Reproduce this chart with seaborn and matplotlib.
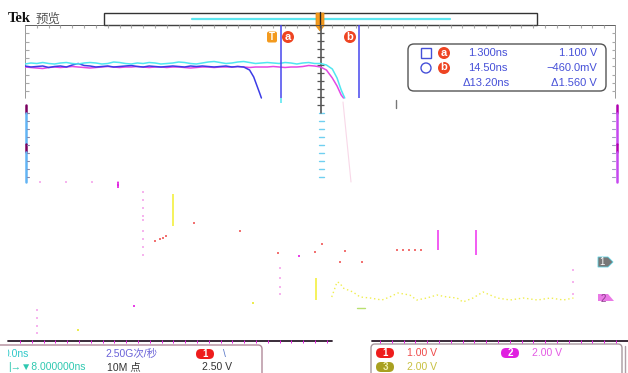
import numpy as np
import pandas as pd
import matplotlib.pyplot as plt
import seaborn as sns
from matplotlib.patches import Rectangle, FancyBboxPatch, Circle, Polygon

sns.set_style("white")
plt.rcParams['font.family'] = ['Liberation Sans', 'Noto Sans CJK SC', 'DejaVu Sans']

# ---- scope data: time in ns, level in screen rows (px from top) ----
t_full = [-42, -41, -40, -39, -38, -37, -36, -35, -34, -33, -32, -31, -30, -29, -28, -27, -26,
          -25, -24, -23, -22, -21, -20, -19, -18, -17, -16, -15, -14, -13, -12, -11, -10, -9,
          -8, -7, -6, -5, -4, -3, -2, -1, 0, 1, 2, 3, 4, 5, 6, 7, 8]

cyan_t = t_full + [9, 10, 10.8, 11.5, 12.1]
cyan_y = [64, 63, 63.5, 62.5, 63.5, 64, 63, 62.5, 63.5, 64, 63, 62.5, 63, 64, 63.5, 62, 62.5,
          63.5, 64, 63, 63.5, 62.5, 63, 64, 63.5, 63, 62, 62.5, 63.5, 64, 63, 62, 61.5, 62.5,
          63.5, 63, 62, 61.5, 62.5, 63.5, 63, 62.5, 63, 63.5, 62.5, 63, 64, 63, 62.5, 63.5, 63.5,
          65, 69, 78, 90, 98]

blue_t = t_full[:37] + [-5, -4, -3.3, -2.8, -2.3, -2.0]
blue_y = [66, 67, 66.5, 66, 67.5, 66.5, 66, 67, 65, 63.5, 65.5, 66, 67, 66.5, 66, 67, 66.5,
          66, 65.5, 66.5, 67, 66, 66.5, 67, 66.5, 66, 66.5, 67, 66, 66.5, 66, 66.5, 67, 66.5,
          66, 67, 66.5,
          67, 70, 77, 85, 93, 98]

magenta_t = t_full + [9, 10, 10.8, 11.5, 11.9]
magenta_y = [67, 67.5, 68, 68.5, 67.5, 67, 67.5, 67, 66.5, 67, 67.5, 68, 67.5, 67, 66.5, 67, 67.5,
             67, 67, 66.5, 67, 67.5, 67, 67, 67.5, 67, 67, 67.5, 68, 67.5, 67, 67, 67.5, 67,
             67, 67, 66.5, 67, 67.5, 67, 67, 67, 66.5, 67, 67.5, 67, 67, 66.5, 65.5, 66, 67,
             70, 78, 86, 95, 98]

yellow_t = [9.9, 10.8, 11.3, 11.8, 13.5, 14.7, 16.4, 18.4, 19.7, 21.1, 23.1, 24.3, 26.0, 27.7,
            29.4, 31.1, 32.1, 33.8, 35.5, 37.9, 40.1, 42.3, 44.7, 46.9, 49.1, 50.8]
yellow_y = [297, 282, 283, 288, 292, 297, 298, 300, 297, 293, 295, 300, 298, 295,
            297, 298, 302, 298, 292, 298, 300, 298, 300, 298, 300, 298]

cursor_a = 1.3
cursor_b = 14.5
h_center = 8.0          # horizontal position, ns
ns_per_div = 10

# sparse dots left on the lower part of the screen
dot_t = [-39.5, -35.1, -30.7, -26.3,
         -22, -22, -22, -22, -22, -22, -22, -22, -22,
         -40, -40, -40, -40, 50.7, 50.7, 50.7, 1.1, 1.1, 1.1, 1.1,
         -20, -19.2, -18.7, -18.1, -13.4, -5.6, 8.3, 0.8, 7.1, 12.1, 20.9, 22, 23, 24, 25,
         15, 11.3,
         4.4, -23.6, -26.3, -33, -3.4]
dot_y = [182, 182, 182, 182,
         192, 200, 208, 216, 220, 231, 239, 247, 255,
         310, 318, 326, 333, 270, 282, 294, 268, 278, 287, 294,
         241, 239, 238, 236, 223, 231, 244, 253, 252, 251, 250, 250, 250, 250, 250,
         262, 262,
         256, 306, 185, 330, 303]
dot_kind = (['pink'] * 24 + ['red'] * 17 + ['mag'] * 3 + ['yel'] * 2)

spike_t = [-17, 7.3, 27.9, 34.3, -26.3]
spike_top = [194, 278, 230, 230, 182]
spike_bot = [226, 300, 250, 255, 188]
spike_col = ['#f4f040', '#f4f040', '#f040f0', '#f040f0', '#e020e0']

trace_colors = {'cyan': '#50e6f0', 'blue': '#3c3ce6', 'magenta': '#e448e4'}
dot_colors = {'pink': '#f6b4ee', 'red': '#f27272', 'mag': '#e840e8', 'yel': '#ecec50'}

traces = pd.concat([
    pd.DataFrame({'t': magenta_t, 'row': magenta_y, 'trace': 'magenta'}),
    pd.DataFrame({'t': blue_t, 'row': blue_y, 'trace': 'blue'}),
    pd.DataFrame({'t': cyan_t, 'row': cyan_y, 'trace': 'cyan'}),
])
dots = pd.DataFrame({'t': dot_t, 'row': dot_y, 'kind': dot_kind})

# ---- figure ----
fig = plt.figure(figsize=(6.28, 3.73), dpi=100)
ax = fig.add_axes([0, 0, 1, 1])
ax.set_xlim(0, 628)
ax.set_ylim(373, 0)
ax.axis('off')

left, right, top, pane_bot, bottom = 25, 616, 25, 98, 341
t0 = h_center - 5 * ns_per_div
t1 = h_center + 5 * ns_per_div
sc = fig.add_axes([left / 628, 1 - bottom / 373, (right - left) / 628, (bottom - top) / 373])
sc.patch.set_alpha(0)

# graticule
grid_c = '#a8a8a8'
sc.plot([t0, t1], [top, top], color='#444444', lw=1.2)
sc.plot([t0, t0], [top, pane_bot], color='#888888', lw=1.2)
sc.plot([t1, t1], [top, pane_bot], color='#888888', lw=1.2)
for k in range(1, 10):
    tc = t0 + k * ns_per_div
    if tc == h_center:
        continue
    sc.scatter([tc] * 7, [33, 42, 50, 58, 75, 83, 91], s=0.5, color=grid_c, marker='s', lw=0)
tick_t = np.arange(t0 + 2, t1, 2)
sc.vlines(tick_t, top, top + 2.5, color=grid_c, lw=0.8)
rows = np.arange(top + 8.3, pane_bot, 8.3)
sc.hlines(rows, t0, t0 + 0.6, color=grid_c, lw=0.8)
sc.hlines(rows, t1 - 0.6, t1, color=grid_c, lw=0.8)
sc.plot([h_center, h_center], [top, 113], color='#555555', lw=1.2)
sc.hlines(np.arange(top + 8, 113, 8), h_center - 0.6, h_center + 0.6, color='#555555', lw=0.9)

sns.lineplot(data=traces, x='t', y='row', hue='trace', palette=trace_colors, ax=sc,
             legend=False, sort=False, estimator=None, linewidth=1.1)
sns.lineplot(x=yellow_t, y=yellow_y, ax=sc, color='#f0ee50', linewidth=1.0,
             dashes=False, linestyle=(0, (1, 2)))
sns.scatterplot(data=dots, x='t', y='row', hue='kind', palette=dot_colors, ax=sc,
                legend=False, s=3, marker='s', linewidth=0)
sc.vlines(spike_t, spike_top, spike_bot, colors=spike_col, lw=1.2)
sc.plot([14.2, 15.5], [308, 308], color='#b8e070', lw=1)

# cursors
sc.vlines([cursor_a, cursor_b], top, pane_bot, color='#4646ee', lw=1.1)
sc.vlines([cursor_a], pane_bot, 103, color='#60e8f0', lw=1.2)

sc.set_xlim(t0, t1)
sc.set_ylim(bottom, top)
sc.axis('off')

# ---- top header ----
ax.text(8, 19, 'Tek', family='Liberation Serif', weight='bold', fontsize=10.5,
        va='center', ha='left', color='#111111')
ax.text(36, 19.5, '预览', family='Noto Sans CJK SC', fontsize=9, va='center',
        ha='left', color='#555555')
ax.add_patch(Rectangle((104, 13), 433, 12, fill=False, ec='#333333', lw=1))
ax.plot([192, 450], [19, 19], color='#5ce6f0', lw=1.6)
ax.add_patch(Polygon([(316, 13), (324, 13), (324, 26), (320, 31), (316, 26)],
                     closed=True, fc='#f39a1e', ec='#e08a10', lw=0.5, zorder=5))
ax.plot([320, 320], [12, 27], color='#222222', lw=1, zorder=6)

ax.add_patch(FancyBboxPatch((267, 31.5), 10, 11, boxstyle='round,pad=0,rounding_size=2',
                            fc='#f39a1e', ec='none'))
ax.text(272, 37.5, 'T', color='white', fontsize=7, weight='bold', ha='center', va='center')
for cx, lab in [(288, 'a'), (350, 'b')]:
    ax.add_patch(Circle((cx, 37), 6, fc='#ee4422', ec='none'))
    ax.text(cx, 36.5, lab, color='white', fontsize=8, weight='bold', ha='center', va='center')

# cursor readout
blue_txt = '#4650d8'
ax.add_patch(FancyBboxPatch((408, 44), 198, 47, boxstyle='round,pad=0,rounding_size=6',
                            fc='white', ec='#555555', lw=1, zorder=3))
ax.add_patch(Rectangle((421, 48), 10, 10, fill=False, ec=blue_txt, lw=1, zorder=4))
ax.add_patch(Circle((426, 68), 5, fill=False, ec=blue_txt, lw=1, zorder=4))
for cy, lab in [(53, 'a'), (68, 'b')]:
    ax.add_patch(Circle((444, cy), 6, fc='#ee4422', ec='none', zorder=4))
    ax.text(444, cy - 0.5, lab, color='white', fontsize=8, weight='bold', ha='center',
            va='center', zorder=5)
read_rows = [(53, '1.300ns', '1.100 V', 468),
             (68, '14.50ns', '\u2212460.0mV', 468),
             (83, '\u039413.20ns', '\u03941.560 V', 463)]
for cy, tx, vx, x0 in read_rows:
    ax.text(x0, cy, tx, color=blue_txt, fontsize=8, ha='left', va='center', zorder=5)
    ax.text(597, cy, vx, color=blue_txt, fontsize=8, ha='right', va='center', zorder=5)

# screen edge artifacts
for y0, y1, c in [(105, 113, '#7a0060'), (113, 144, '#62b4f4'), (144, 152, '#7a0060'),
                  (152, 182, '#62b4f4')]:
    ax.plot([26, 26], [y0, y1], color=c, lw=1.8)
for y0, y1, c in [(105, 113, '#b000b0'), (113, 144, '#c648f0'), (144, 152, '#b000b0'),
                  (152, 182, '#c648f0')]:
    ax.plot([617, 617], [y0, y1], color=c, lw=1.8)
for yy in np.arange(113, 182, 8):
    ax.plot([27, 29], [yy, yy], color='#8888aa', lw=0.8)
    ax.plot([612, 615], [yy, yy], color='#a0a0c0', lw=0.8)
    ax.plot([319, 324], [yy, yy], color='#70d0f0', lw=1)
ax.plot([396, 396], [100, 108], color='#777777', lw=1)
ax.plot([343, 351], [102, 182], color='#f8d8e8', lw=0.8)

# channel markers
ax.add_patch(Polygon([(598, 257), (608, 257), (613, 262), (608, 267), (598, 267)],
                     fc='#777777', ec='#60d0e0', lw=0.6))
ax.text(602, 262, '1', color='white', fontsize=7, ha='center', va='center')
ax.add_patch(Polygon([(598, 294), (608, 294), (614, 301), (598, 301)],
                     fc='#ea7ae6', ec='none'))
ax.text(603, 299, '2', color='#8a3a8a', fontsize=7, ha='center', va='center')

# ---- bottom status ----
ax.plot([8, 332], [341, 341], color='#2a1a2a', lw=1.3)
ax.plot([372, 628], [341, 341], color='#2a1a2a', lw=1.3)
ax.vlines(np.arange(20, 330, 11.8), 340, 342.5, color='#e020e0', lw=0.7)
ax.vlines(np.arange(380, 628, 11.8), 340, 342.5, color='#e020e0', lw=0.7)

ax.add_patch(FancyBboxPatch((-10, 345), 272, 40, boxstyle='round,pad=0,rounding_size=4',
                            fill=False, ec='#b08a9a', lw=1))
ax.add_patch(FancyBboxPatch((371, 344), 251, 40, boxstyle='round,pad=0,rounding_size=4',
                            fill=False, ec='#a89aa0', lw=1))
ax.plot([625, 625], [346, 373], color='#b0a0a8', lw=1)

fs = 7.5
ax.text(4, 354, '0.0ns', color='#2ec8c8', fontsize=fs, ha='left', va='center')
ax.add_patch(Rectangle((0, 347), 7.5, 14, fc='white', ec='none', zorder=4))
ax.text(8, 367, '|\u2192\u25bc8.000000ns', color='#2ec8b0', fontsize=fs, ha='left',
        va='center', family=['Liberation Sans', 'DejaVu Sans'])
ax.text(105, 354, '2.50G次/秒', color='#6a62d8', fontsize=fs, ha='left', va='center')
ax.text(107, 367, '10M 点', color='#333333', fontsize=fs, ha='left', va='center')
ax.add_patch(FancyBboxPatch((196, 349), 18, 10, boxstyle='round,pad=0,rounding_size=5',
                            fc='#ee1c1c', ec='none'))
ax.text(205, 354, '1', color='white', fontsize=7, weight='bold', ha='center', va='center')
ax.text(223, 354, '\\', color='#5a78c8', fontsize=fs, ha='left', va='center')
ax.text(232, 367, '2.50 V', color='#333333', fontsize=fs, ha='right', va='center')

for ox, oy, fc_, tc_, lab, val, vc in [(385, 353, '#ee1c1c', 'white', '1', '1.00 V', '#ee4a4a'),
                                        (510, 353, '#e020e0', 'white', '2', '2.00 V', '#e45ae4'),
                                        (385, 367, '#a8a020', '#f0f0b0', '3', '2.00 V', '#c8c040')]:
    ax.add_patch(FancyBboxPatch((ox - 9, oy - 5), 18, 10, boxstyle='round,pad=0,rounding_size=5',
                                fc=fc_, ec='none'))
    ax.text(ox, oy, lab, color=tc_, fontsize=7, weight='bold', ha='center', va='center')
    ax.text(ox + 22, oy, val, color=vc, fontsize=fs, ha='left', va='center')

fig.savefig('out.png', dpi=100)
